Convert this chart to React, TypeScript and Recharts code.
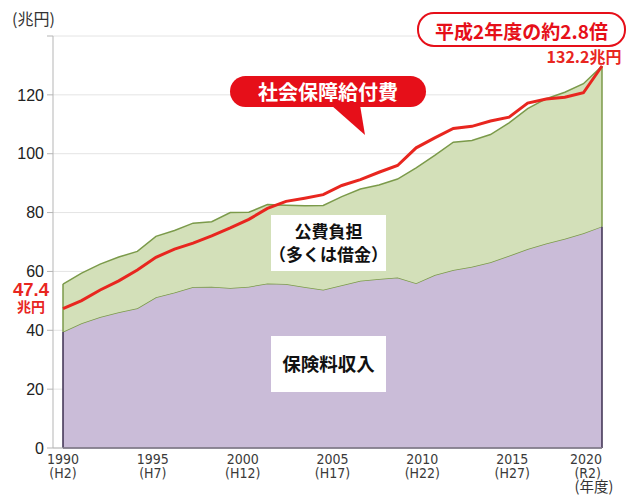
import React from 'react';
import {
  ComposedChart,
  Area,
  Line,
  XAxis,
  YAxis,
  CartesianGrid,
  ReferenceLine,
} from 'recharts';

// fiscal years plotted (2019 is not in the source series)
const years = [
  '1990', '1991', '1992', '1993', '1994', '1995', '1996', '1997', '1998', '1999',
  '2000', '2001', '2002', '2003', '2004', '2005', '2006', '2007', '2008', '2009',
  '2010', '2011', '2012', '2013', '2014', '2015', '2016', '2017', '2018', '2020',
];
// 保険料収入 (兆円)
const premiums = [
  39.5, 42.4, 44.5, 46.1, 47.5, 51.2, 52.8, 54.7, 54.8, 54.4,
  54.8, 55.9, 55.7, 54.7, 53.8, 55.3, 56.8, 57.4, 57.9, 56.0,
  58.8, 60.5, 61.6, 63.1, 65.3, 67.6, 69.5, 71.1, 73.0, 75.3,
];
// 公費負担 (兆円)
const publicFunds = [
  16.2, 17.0, 18.0, 18.8, 19.3, 20.7, 21.1, 21.7, 22.1, 25.6,
  25.3, 26.8, 26.8, 27.6, 28.6, 30.1, 31.2, 32.0, 33.5, 39.2,
  40.6, 43.4, 42.9, 43.4, 45.2, 47.7, 49.2, 49.8, 50.8, 54.5,
];
// 社会保障給付費 (兆円)
const benefits = [
  47.4, 50.1, 53.7, 56.8, 60.5, 64.8, 67.6, 69.6, 72.1, 74.8,
  77.7, 81.4, 83.8, 84.9, 86.1, 89.2, 91.2, 93.7, 96.0, 102.0,
  105.4, 108.6, 109.3, 111.1, 112.4, 117.2, 118.6, 119.2, 120.7, 129.8,
];

const yearTicks = [1990, 1995, 2000, 2005, 2010, 2015, 2020];
const eraLabels = ['H2', 'H7', 'H12', 'H17', 'H22', 'H27', 'R2'];
const valueTicks = [0, 20, 40, 60, 80, 100, 120, 140];

const data = years.map((year, i) => ({
  year,
  yearNum: Number(year),
  premium: premiums[i],
  publicFund: publicFunds[i],
  benefit: benefits[i],
}));

const RED = '#e60f19';
const LINE_RED = '#e8261f';
const OLIVE = '#7b9a4a';
const PURPLE = '#cabcd8';
const GREEN = '#d3e0b9';
const DARK = '#3b2e4f';
const JP = "'Noto Sans CJK JP', sans-serif";
const NARROW = "'Liberation Sans Narrow', 'DejaVu Sans Condensed', 'Liberation Sans', sans-serif";

const first = years[0];
const last = years[years.length - 1];
const n = years.length - 1;

function YearTick(props: any) {
  const { x, y, payload } = props;
  const isLast = payload.value === 2020;
  const anchor = isLast ? 'end' : 'middle';
  const era = eraLabels[yearTicks.indexOf(payload.value)];
  return (
    <g fontFamily={NARROW} fontSize={14} fontWeight="normal" fill="#3a3a3a">
      <text x={x} y={y + 16} textAnchor={anchor}>{payload.value}</text>
      <text x={isLast ? x - 1 : x} y={y + 30} textAnchor={anchor}>({era})</text>
    </g>
  );
}

export default function App() {
  return (
    <div style={{ position: 'absolute', left: 0, top: 0, width: 638, height: 497, background: '#fff' }}>
      <ComposedChart
        width={638}
        height={497}
        data={data}
        margin={{ top: 36, right: 36, bottom: 0, left: 0 }}
      >
        <CartesianGrid vertical={false} stroke="#e4e4e4" />
        <XAxis
          dataKey="year"
          type="category"
          scale="point"
          hide
          height={0}
          padding={{ left: 10, right: 0 }}
        />
        <XAxis
          xAxisId="yr"
          dataKey="yearNum"
          type="number"
          domain={[1990, 2020]}
          allowDataOverflow
          ticks={yearTicks}
          interval={0}
          padding={{ left: 10, right: 0 }}
          height={49}
          tickLine={false}
          tickSize={0}
          tickMargin={0}
          axisLine={{ stroke: '#b5b5b5' }}
          tick={<YearTick />}
        />
        <YAxis
          type="number"
          domain={[0, 140]}
          ticks={valueTicks}
          interval={0}
          width={53}
          axisLine={{ stroke: '#b5b5b5' }}
          tickLine={{ stroke: '#b5b5b5' }}
          tickSize={6}
          tickMargin={3}
          tickFormatter={(v: number) => (v === 140 ? '' : String(v))}
          tick={{ fill: '#222', fontSize: 16, fontFamily: "'Liberation Sans', Arial, sans-serif" }}
        />
        <Area
          type="linear"
          dataKey="premium"
          stackId="rev"
          fill={PURPLE}
          fillOpacity={1}
          stroke={OLIVE}
          strokeWidth={1.5}
          isAnimationActive={false}
        />
        <Area
          type="linear"
          dataKey="publicFund"
          stackId="rev"
          fill={GREEN}
          fillOpacity={1}
          stroke={OLIVE}
          strokeWidth={1.5}
          isAnimationActive={false}
        />
        {/* invisible series that binds the year-label axis to the data */}
        <Line
          xAxisId="yr"
          type="linear"
          dataKey="benefit"
          stroke="none"
          dot={false}
          activeDot={false}
          legendType="none"
          isAnimationActive={false}
        />
        <ReferenceLine segment={[{ x: first, y: 0 }, { x: last, y: 0 }]} stroke={DARK} strokeWidth={1.5} />
        <ReferenceLine segment={[{ x: first, y: 0 }, { x: first, y: premiums[0] }]} stroke={DARK} strokeWidth={1.5} />
        <ReferenceLine segment={[{ x: last, y: 0 }, { x: last, y: premiums[n] }]} stroke={DARK} strokeWidth={1.5} />
        <ReferenceLine
          segment={[{ x: first, y: premiums[0] }, { x: first, y: premiums[0] + publicFunds[0] }]}
          stroke={OLIVE}
          strokeWidth={1.5}
        />
        <ReferenceLine
          segment={[{ x: last, y: premiums[n] }, { x: last, y: premiums[n] + publicFunds[n] }]}
          stroke={OLIVE}
          strokeWidth={1.5}
        />
        <Line
          type="linear"
          dataKey="benefit"
          stroke={LINE_RED}
          strokeWidth={3}
          dot={false}
          isAnimationActive={false}
        />
      </ComposedChart>

      <svg
        width={638}
        height={497}
        style={{ position: 'absolute', left: 0, top: 0, pointerEvents: 'none' }}
      >
        <text x={12} y={25} fontFamily={JP} fontSize={16} fill="#333">(兆円)</text>

        <text x={31} y={296} textAnchor="middle" fontFamily="'Liberation Sans', Arial, sans-serif" fontWeight="bold" fontSize={18.5} fill={LINE_RED}>47.4</text>
        <text x={31} y={312} textAnchor="middle" fontFamily={JP} fontWeight="bold" fontSize={14} fill={LINE_RED}>兆円</text>

        <rect x={418} y={13} width={207} height={33} rx={16} fill="#fff" stroke={RED} strokeWidth={2} />
        <text x={521.5} y={30} textAnchor="middle" dominantBaseline="central" fontFamily={JP} fontWeight="bold" fontSize={19} fill={RED}>平成2年度の約2.8倍</text>
        <text x={584} y={63} textAnchor="middle" fontFamily={JP} fontWeight="bold" fontSize={16} fill={LINE_RED}>132.2兆円</text>

        <rect x={230} y={76} width={196} height={31} rx={15.5} fill={RED} />
        <polygon points="331,105 360,105 365,135" fill={RED} />
        <text x={328} y={91.5} textAnchor="middle" dominantBaseline="central" fontFamily={JP} fontWeight="bold" fontSize={20} fill="#fff">社会保障給付費</text>

        <rect x={271} y={215} width={115} height={56} fill="#fff" />
        <text x={328.5} y={230} textAnchor="middle" dominantBaseline="central" fontFamily={JP} fontWeight="bold" fontSize={17} fill="#111">公費負担</text>
        <text x={328.5} y={253} textAnchor="middle" dominantBaseline="central" fontFamily={JP} fontWeight="bold" fontSize={17} fill="#111">（多くは借金）</text>

        <rect x={271} y={336} width={115} height={56} fill="#fff" />
        <text x={328.5} y={363} textAnchor="middle" dominantBaseline="central" fontFamily={JP} fontWeight="bold" fontSize={18.5} fill="#111">保険料収入</text>

        <text x={594} y={492} textAnchor="middle" fontFamily={JP} fontSize={14.5} fill="#333">(年度)</text>
      </svg>
    </div>
  );
}
